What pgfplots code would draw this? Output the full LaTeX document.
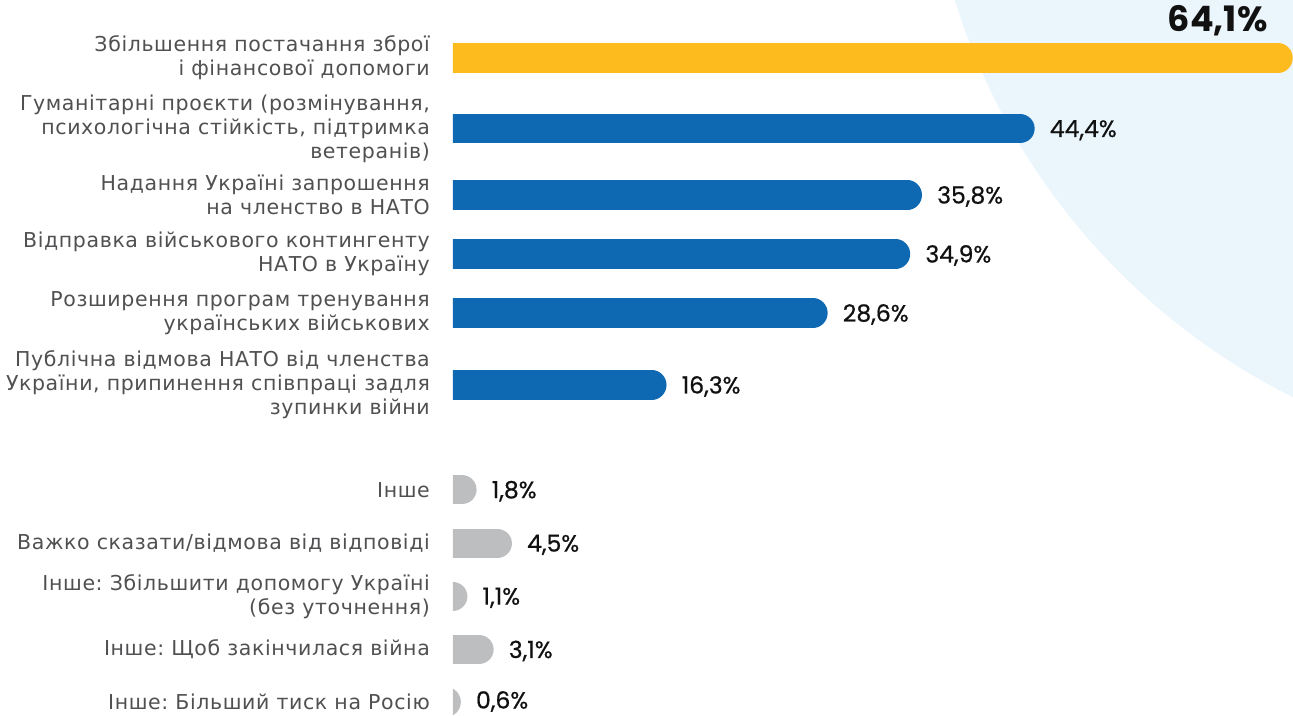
\documentclass[border=0pt]{standalone}
\usepackage{fontspec}
\setmainfont{DejaVu Sans}[LetterSpace=3]
\newfontfamily\valfont{Poppins}[FakeBold=0.7]
\newfontfamily\valbold{Poppins}
\usepackage{pgfplots}
\pgfplotsset{compat=1.18}
\definecolor{cyellow}{HTML}{FDBB1D}
\definecolor{cblue}{HTML}{0F68B2}
\definecolor{cgray}{HTML}{BDBEC0}
\definecolor{cbg}{HTML}{EAF5FC}
\definecolor{clabel}{HTML}{505052}
\definecolor{cval}{HTML}{111111}
\tikzset{
  mybar/.style={line width=29.4bp, line cap=round, shorten >=14.7bp},
  vlab/.style={anchor=west, xshift=15bp, yshift=-1.5bp, inner sep=0pt, text=cval, font=\valfont\fontsize{23.5bp}{23.5bp}\selectfont},
}
\frenchspacing
\begin{document}
\begin{tikzpicture}
\begin{axis}[
  at={(0,0)}, anchor=south west,
  scale only axis, width=840bp, height=716bp,
  xmin=0, xmax=64.12, ymin=0, ymax=716, y dir=reverse,
  axis line style={draw=none}, tick style={draw=none}, major tick length=0pt,
  xtick=\empty,
  ytick={58,128.7,195,254,313,385,489.7,543.3,596.3,649.5,702},
  yticklabels={
    {Збільшення постачання зброї\\і фінансової допомоги},
    {Гуманітарні проєкти (розмінування,\\психологічна стійкість, підтримка\\ветеранів)},
    {Надання Україні запрошення\\на членство в НАТО},
    {Відправка військового контингенту\\НАТО в Україну},
    {Розширення програм тренування\\українських військових},
    {Публічна відмова НАТО від членства\\України, припинення співпраці задля\\зупинки війни},
    {Інше},
    {Важко сказати/відмова від відповіді},
    {Інше: Збільшити допомогу Україні\\(без уточнення)},
    {Інше: Щоб закінчилася війна},
    {Інше: Більший тиск на Росію}
  },
  yticklabel style={align=right, font=\fontsize{20.5bp}{24bp}\selectfont, text=clabel, inner sep=0pt, xshift=-23bp},
  clip=true,
]
\fill[cbg] (axis cs:86.7,-197.2) circle[radius=663.8bp];
\addplot[mybar, cyellow] coordinates {(-3,58) (64.1,58)};
\addplot[mybar, cblue] coordinates {(-3,128.7) (44.4,128.7)};
\addplot[mybar, cblue] coordinates {(-3,195) (35.8,195)};
\addplot[mybar, cblue] coordinates {(-3,254) (34.9,254)};
\addplot[mybar, cblue] coordinates {(-3,313) (28.6,313)};
\addplot[mybar, cblue] coordinates {(-3,385) (16.3,385)};
\addplot[mybar, cgray] coordinates {(-3,489.7) (1.8,489.7)};
\addplot[mybar, cgray] coordinates {(-3,543.3) (4.5,543.3)};
\addplot[mybar, cgray] coordinates {(-3,596.3) (1.1,596.3)};
\addplot[mybar, cgray] coordinates {(-3,649.5) (3.1,649.5)};
\addplot[mybar, cgray] coordinates {(-3,702) (0.6,702)};
\node[vlab] at (axis cs:44.4,128.7) {44,4\%};
\node[vlab] at (axis cs:35.8,195) {35,8\%};
\node[vlab] at (axis cs:34.9,254) {34,9\%};
\node[vlab] at (axis cs:28.6,313) {28,6\%};
\node[vlab] at (axis cs:16.3,385) {16,3\%};
\node[vlab] at (axis cs:1.8,489.7) {1,8\%};
\node[vlab] at (axis cs:4.5,543.3) {4,5\%};
\node[vlab] at (axis cs:1.1,596.3) {1,1\%};
\node[vlab] at (axis cs:3.1,649.5) {3,1\%};
\node[vlab, yshift=2bp] at (axis cs:0.6,702) {0,6\%};
\node[anchor=east, inner sep=0pt, text=cval, font=\valbold\bfseries\fontsize{35bp}{35bp}\selectfont] at (axis cs:64.1,21) [xshift=-25bp] {64,1\%};
\end{axis}
\pgfresetboundingbox
\path[use as bounding box] (-453bp,0) rectangle (840bp,716bp);
\end{tikzpicture}
\end{document}
